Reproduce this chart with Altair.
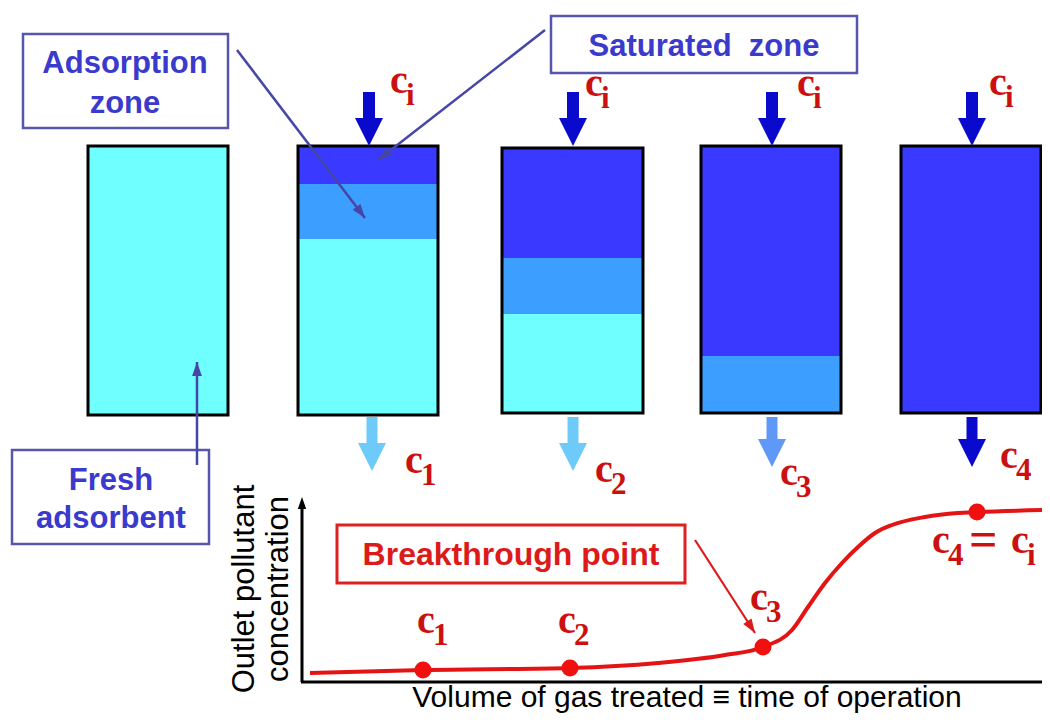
import math
import altair as alt
import pandas as pd

# ---------------- data (diagram units = picture pixels) ----------------
col_left = [88, 298, 502, 701, 901]
col_right = [228, 438, 643, 841, 1041]
col_top = [146, 146, 148, 146, 146]
col_bottom = [415, 415, 413, 413, 413]
sat_bottom = [146, 184, 258, 356, 413]
ads_bottom = [146, 239, 314, 413, 413]
zone_colors = {"saturated": "#3939FF", "adsorption": "#3C9EFF", "fresh": "#70FFFF"}

inlet_x = [369, 573, 772, 972]
inlet_start = 92
inlet_tip = 146
inlet_color = "#0A0ACC"

outlet_x = [372, 573, 772, 972]
outlet_tip = [471, 471, 467, 467]
outlet_colors = ["#6ECAF8", "#6ECAF8", "#6098F8", "#0A0ACC"]

# breakthrough curve (volume treated -> outlet concentration)
curve_x = [310, 423, 570, 658, 725, 763, 792, 808, 825, 842, 858, 875, 892, 925, 958, 977, 1048]
curve_y = [673, 670, 668, 663, 655, 647, 630, 607, 583, 563, 547, 533, 525, 517, 513, 512, 510]
point_x = [423, 570, 763, 977]
point_y = [670, 668, 647, 512]

# c labels: left of "c", baseline, subscript
c_x = [390, 585, 797, 989, 405, 595, 780, 1000, 417, 558, 750, 932, 1011]
c_y = [93, 96, 96, 95, 473, 482, 485, 468, 633, 633, 610, 553, 553]
c_sub = ["i", "i", "i", "i", "1", "2", "3", "4", "1", "2", "3", "4", "i"]
eq_label = ("=", 969, 556)

# callout boxes
box_x0 = [23, 551, 12]
box_x1 = [228, 857, 209]
box_y0 = [34, 16, 450]
box_y1 = [128, 73, 544]
blue_lines = [
    ("Adsorption", 125, 73), ("zone", 125, 113),
    ("Saturated\u00a0\u00a0zone", 704, 56),
    ("Fresh", 111, 490), ("adsorbent", 111, 528),
]
# callout pointers: start -> tip
ptr_x0 = [237, 545, 197]
ptr_y0 = [50, 30, 465]
ptr_x1 = [365, 378, 197]
ptr_y1 = [218, 160, 362]

bt_box = (337, 685, 525, 583)
bt_text = ("Breakthrough point", 511, 565)
bt_ptr = (695, 540, 755, 633)

axis_origin = (302, 682)
axis_ytip = 497
axis_xend = 1050

y_title = ["Outlet pollutant", "concentration"]
x_title = "Volume of gas treated \u2261 time of operation"

# ---------------- scales ----------------
W, H = 1034, 706
xs = alt.Scale(domain=[8, 8 + W], nice=False, zero=False)
ys = alt.Scale(domain=[8 + H, 8], nice=False, zero=False)


def X(f="x"):
    return alt.X(f + ":Q", scale=xs, axis=None)


def Y(f="y"):
    return alt.Y(f + ":Q", scale=ys, axis=None)


ARROW = "M0,-1L1,1L-1,1Z"
SLIM = "M0,-1L0.7,1L-0.7,1Z"


def head_rows(x0, y0, x1, y1, side, color, shape_len):
    dx, dy = x1 - x0, y1 - y0
    L = math.hypot(dx, dy)
    ang = math.degrees(math.atan2(dx, -dy)) % 360
    cx = x1 - dx / L * shape_len / 2
    cy = y1 - dy / L * shape_len / 2
    return dict(x=cx, y=cy, angle=ang, size=side * side, color=color)


layers = []

# ---- columns ----
seg = []
for i in range(len(col_left)):
    seg.append(dict(x=col_left[i], x2=col_right[i], y=col_top[i], y2=sat_bottom[i], color=zone_colors["saturated"]))
    seg.append(dict(x=col_left[i], x2=col_right[i], y=sat_bottom[i], y2=ads_bottom[i], color=zone_colors["adsorption"]))
    seg.append(dict(x=col_left[i], x2=col_right[i], y=ads_bottom[i], y2=col_bottom[i], color=zone_colors["fresh"]))
seg_df = pd.DataFrame(seg)
layers.append(alt.Chart(seg_df).mark_rect(strokeWidth=0).encode(
    x=X(), x2="x2:Q", y=Y(), y2="y2:Q", color=alt.Color("color:N", scale=None)))
cols_df = pd.DataFrame(dict(x=col_left, x2=col_right, y=col_top, y2=col_bottom))
layers.append(alt.Chart(cols_df).mark_rect(filled=False, stroke="black", strokeWidth=3).encode(
    x=X(), x2="x2:Q", y=Y(), y2="y2:Q"))

# ---- inlet / outlet arrows ----
inl = pd.DataFrame(dict(x=inlet_x, y=[inlet_start] * 4, y2=[inlet_tip - 24] * 4))
layers.append(alt.Chart(inl).mark_rule(strokeWidth=12, color=inlet_color).encode(x=X(), y=Y(), y2="y2:Q"))
heads = [dict(x=x, y=inlet_tip - 14, angle=180, size=784, color=inlet_color) for x in inlet_x]
out_rows = []
for x, tip, colr in zip(outlet_x, outlet_tip, outlet_colors):
    out_rows.append(dict(x=x, y=417, y2=tip - 24, color=colr))
    heads.append(dict(x=x, y=tip - 14, angle=180, size=784, color=colr))
layers.append(alt.Chart(pd.DataFrame(out_rows)).mark_rule(strokeWidth=11).encode(
    x=X(), y=Y(), y2="y2:Q", color=alt.Color("color:N", scale=None)))
layers.append(alt.Chart(pd.DataFrame(heads)).mark_point(filled=True, shape=ARROW, opacity=1, strokeWidth=0).encode(
    x=X(), y=Y(), size=alt.Size("size:Q", scale=None), angle=alt.Angle("angle:Q", scale=None),
    color=alt.Color("color:N", scale=None)))

# ---- callout boxes and pointers ----
bx = pd.DataFrame(dict(x=box_x0, x2=box_x1, y=box_y0, y2=box_y1))
layers.append(alt.Chart(bx).mark_rect(fill="white", stroke="#5656AE", strokeWidth=2.5).encode(
    x=X(), x2="x2:Q", y=Y(), y2="y2:Q"))
ptr = pd.DataFrame(dict(x=ptr_x0, y=ptr_y0, x2=ptr_x1, y2=ptr_y1))
layers.append(alt.Chart(ptr).mark_rule(strokeWidth=2.5, color="#4646A6").encode(
    x=X(), y=Y(), x2="x2:Q", y2="y2:Q"))
sm_heads = [head_rows(a, b, c, d, 14, "#4646A6", 14) for a, b, c, d in zip(ptr_x0, ptr_y0, ptr_x1, ptr_y1)]
sm_heads.append(head_rows(*bt_ptr, 14, "#DD1A1A", 14))
sm_heads.append(head_rows(axis_origin[0], axis_origin[1], axis_origin[0], axis_ytip, 12, "black", 12))
layers.append(alt.Chart(pd.DataFrame(sm_heads)).mark_point(filled=True, shape=SLIM, opacity=1, strokeWidth=0).encode(
    x=X(), y=Y(), size=alt.Size("size:Q", scale=None), angle=alt.Angle("angle:Q", scale=None),
    color=alt.Color("color:N", scale=None)))

bt_df = pd.DataFrame([dict(x=bt_box[0], x2=bt_box[1], y=bt_box[2], y2=bt_box[3])])
layers.append(alt.Chart(bt_df).mark_rect(fill="white", stroke="#DD2020", strokeWidth=3).encode(
    x=X(), x2="x2:Q", y=Y(), y2="y2:Q"))
btp = pd.DataFrame([dict(x=bt_ptr[0], y=bt_ptr[1], x2=bt_ptr[2], y2=bt_ptr[3])])
layers.append(alt.Chart(btp).mark_rule(strokeWidth=2.2, color="#DD1A1A").encode(
    x=X(), y=Y(), x2="x2:Q", y2="y2:Q"))

# ---- axes of the breakthrough plot ----
ax_df = pd.DataFrame([
    dict(x=axis_origin[0], y=axis_origin[1], x2=axis_origin[0], y2=axis_ytip + 8),
    dict(x=axis_origin[0] - 1, y=axis_origin[1], x2=axis_xend, y2=axis_origin[1]),
])
layers.append(alt.Chart(ax_df).mark_rule(strokeWidth=3, color="black").encode(
    x=X(), y=Y(), x2="x2:Q", y2="y2:Q"))

# ---- curve and points ----
cdf = pd.DataFrame(dict(x=curve_x, y=curve_y))
layers.append(alt.Chart(cdf).mark_line(color="#E41414", strokeWidth=4, interpolate="monotone").encode(
    x=X(), y=Y(), order="x:Q"))
pdf = pd.DataFrame(dict(x=point_x, y=point_y))
layers.append(alt.Chart(pdf).mark_circle(color="#F01010", size=290, opacity=1).encode(x=X(), y=Y()))

# ---- texts ----
blue_df = pd.DataFrame([dict(t=t, x=x, y=y) for t, x, y in blue_lines])
layers.append(alt.Chart(blue_df).mark_text(font="Liberation Sans", fontWeight="bold", fontSize=31,
                                           color="#3A3ACC", align="center", baseline="alphabetic").encode(
    x=X(), y=Y(), text="t:N"))
bt_t = pd.DataFrame([dict(t=bt_text[0], x=bt_text[1], y=bt_text[2])])
layers.append(alt.Chart(bt_t).mark_text(font="Liberation Sans", fontWeight="bold", fontSize=32,
                                        color="#DD1A1A", align="center", baseline="alphabetic").encode(
    x=X(), y=Y(), text="t:N"))
rot = pd.DataFrame([dict(t=y_title[0], x=254, y=589), dict(t=y_title[1], x=288, y=589)])
layers.append(alt.Chart(rot).mark_text(font="Liberation Sans", fontSize=31, color="black", angle=270,
                                       align="center", baseline="alphabetic").encode(x=X(), y=Y(), text="t:N"))
bot = pd.DataFrame([dict(t=x_title, x=687, y=707)])
layers.append(alt.Chart(bot).mark_text(font="Liberation Sans", fontSize=30, color="black",
                                       align="center", baseline="alphabetic").encode(x=X(), y=Y(), text="t:N"))

crow = []
for x, y, s in zip(c_x, c_y, c_sub):
    crow.append(dict(t="c", x=x, y=y, s=40))
    crow.append(dict(t=s, x=x + 16, y=y + 12, s=31))
crow.append(dict(t=eq_label[0], x=eq_label[1], y=eq_label[2], s=50))
cdf2 = pd.DataFrame(crow)
layers.append(alt.Chart(cdf2).mark_text(font="Liberation Serif", fontWeight="bold", color="#CC1010",
                                        align="left", baseline="alphabetic").encode(
    x=X(), y=Y(), text="t:N", size=alt.Size("s:Q", scale=None)))

chart = alt.layer(*layers).properties(width=W, height=H, padding=0, autosize="none").configure_view(stroke=None)
chart.save("out.html", embed_options={"renderer": "svg", "actions": False})
